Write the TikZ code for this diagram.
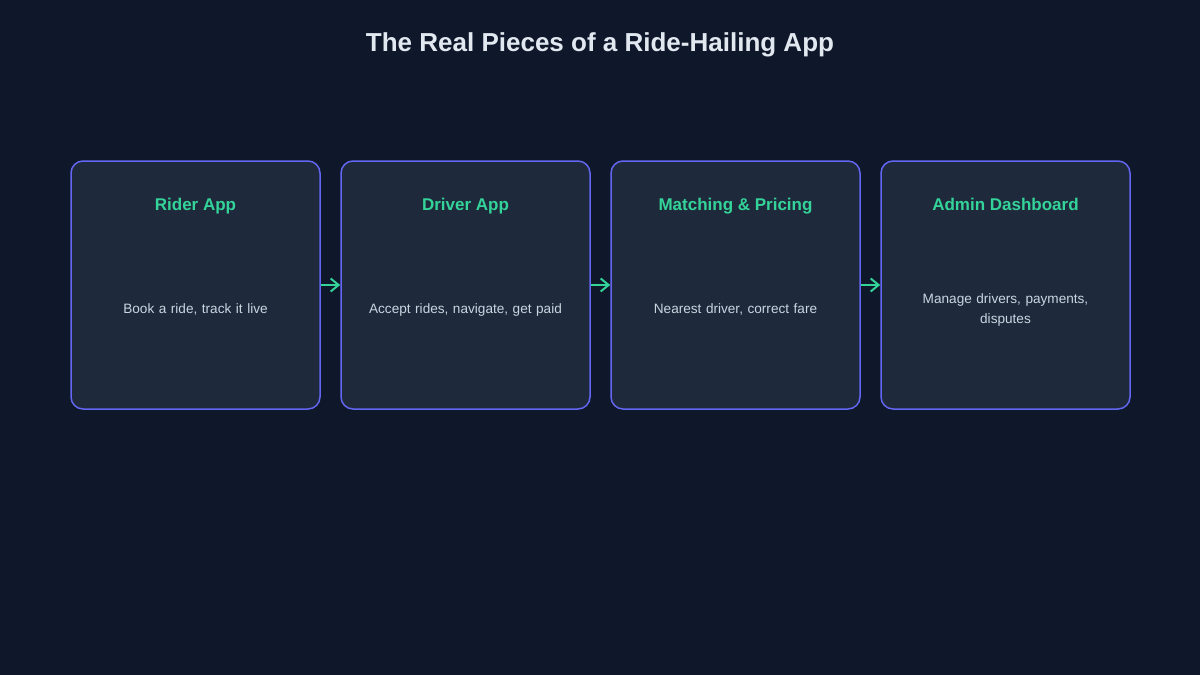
\documentclass[tikz,border=0pt]{standalone}
\usepackage{fontspec}
\setmainfont{Liberation Sans}
\usetikzlibrary{arrows.meta}
\definecolor{bg}{HTML}{0F172A}
\definecolor{boxfill}{HTML}{1E293B}
\definecolor{boxline}{HTML}{6366F1}
\definecolor{accent}{HTML}{34D399}
\definecolor{titletext}{HTML}{E2E8F0}
\definecolor{bodytext}{HTML}{CBD5E1}
\tikzset{
  card/.style={draw=boxline, line width=1.5pt, fill=boxfill, rounded corners=12pt, minimum width=249pt, minimum height=248pt, inner sep=0pt},
  cardtitle/.style={text=accent, font=\bfseries\fontsize{17}{20}\selectfont, anchor=base, inner sep=0pt},
  cardbody/.style={text=bodytext, font=\fontsize{13.6}{20}\selectfont, align=center, text width=200pt, anchor=base, inner sep=0pt},
  flow/.style={draw=accent, line width=2pt, -{Straight Barb[length=8pt,width=13pt,line width=2pt]}}
}
\begin{document}
\begin{tikzpicture}[x=1pt,y=-1pt]
\useasboundingbox[fill=bg] (0,0) rectangle (1200,675);
\node[text=titletext, font=\bfseries\fontsize{26}{30}\selectfont, anchor=base, inner sep=0pt] (title) at (600,51) {The Real Pieces of a Ride-Hailing App};
\node[card] (c1) at (195.5,285) {};
\node[card] (c2) at (465.5,285) {};
\node[card] (c3) at (735.5,285) {};
\node[card] (c4) at (1005.5,285) {};
\node[cardtitle] (t1) at (195.5,210) {Rider App};
\node[cardtitle] (t2) at (465.5,210) {Driver App};
\node[cardtitle] (t3) at (735.5,210) {Matching \& Pricing};
\node[cardtitle] (t4) at (1005.5,210) {Admin Dashboard};
\node[cardbody] (b1) at (195.5,313) {Book a ride, track it live};
\node[cardbody] (b2) at (465.5,313) {Accept rides, navigate, get paid};
\node[cardbody] (b3) at (735.5,313) {Nearest driver, correct fare};
\node[cardbody, text width=180pt] (b4) at (1005.5,303) {Manage drivers, payments,\\disputes};
\draw[flow] (c1.east) -- (c2.west);
\draw[flow] (c2.east) -- (c3.west);
\draw[flow] (c3.east) -- (c4.west);
\end{tikzpicture}
\end{document}
